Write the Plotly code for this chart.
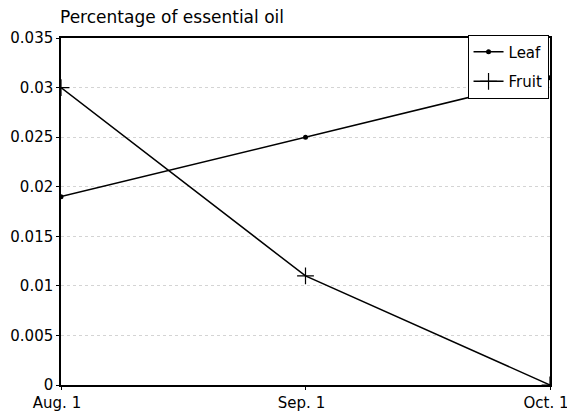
import plotly.graph_objects as go

dates = ["Aug. 1", "Sep. 1", "Oct. 1"]
leaf = [0.019, 0.025, 0.031]
fruit = [0.030, 0.011, 0.0]
y_ticks = [0, 0.005, 0.01, 0.015, 0.02, 0.025, 0.03, 0.035]
y_labels = ["0", "0.005", "0.01", "0.015", "0.02", "0.025", "0.03", "0.035"]

fig = go.Figure()
fig.add_trace(go.Scatter(x=dates, y=leaf, name="Leaf", mode="lines+markers",
                         legendgroup="a",
                         line=dict(color="black", width=1.5),
                         marker=dict(symbol="circle", size=5, color="black")))
fig.add_trace(go.Scatter(x=dates, y=fruit, name="Fruit", mode="lines+markers",
                         legendgroup="b",
                         line=dict(color="black", width=1.5),
                         marker=dict(symbol="cross-thin", size=12,
                                     line=dict(color="black", width=1.2))))

font = dict(family="DejaVu Sans, sans-serif", size=15, color="black")
fig.update_layout(
    width=567, height=407,
    margin=dict(l=53, r=25, t=30, b=30),
    paper_bgcolor="white", plot_bgcolor="white",
    font=font,
    showlegend=True,
    legend=dict(x=0.997, y=1.01, xanchor="right", yanchor="top",
                bordercolor="black", borderwidth=1, bgcolor="white",
                font=font, itemwidth=30, tracegroupgap=7),
    annotations=[dict(text="Percentage of essential oil", xref="paper", yref="paper",
                      x=0, y=1, xanchor="left", yanchor="bottom", yshift=9, xshift=-3,
                      showarrow=False, font=dict(family=font["family"], size=17, color="black"))],
)
fig.update_xaxes(type="category", range=[0, 2], automargin=False, showline=True,
                 linecolor="black", linewidth=1.5, mirror=True, showgrid=False,
                 ticks="outside", ticklen=3, tickcolor="black", tickfont=font,
                 ticklabelshift=-4)
fig.update_yaxes(range=[0, 0.035], tickvals=y_ticks, ticktext=y_labels, automargin=False,
                 showline=True, linecolor="black", linewidth=1.5, mirror=True, showgrid=True,
                 gridcolor="#d4d4d4", griddash="dot", gridwidth=1, zeroline=False,
                 ticks="outside", ticklen=3, tickcolor="black", tickfont=font)

fig.write_html("out.html")
